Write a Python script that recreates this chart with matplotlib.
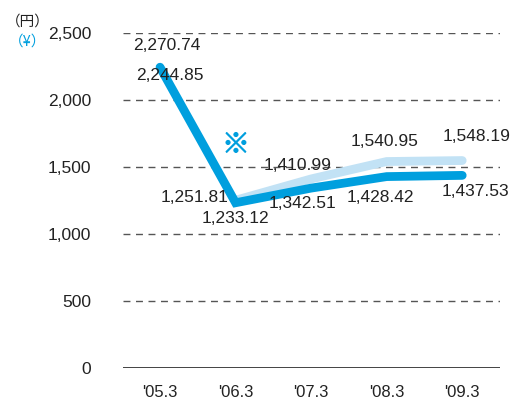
import matplotlib
matplotlib.use("Agg")
import matplotlib.pyplot as plt
import matplotlib.patheffects as pe

categories = ["'05.3", "'06.3", "'07.3", "'08.3", "'09.3"]
series_dark = [2244.85, 1233.12, 1342.51, 1428.42, 1437.53]
series_light = [2270.74, 1251.81, 1410.99, 1540.95, 1548.19]
yticks = [0, 500, 1000, 1500, 2000, 2500]
ytick_labels = ["0", "500", "1,000", "1,500", "2,000", "2,500"]

DARK = "#009fde"
LIGHT = "#c2e2f5"
FONT = "Liberation Sans"

fig = plt.figure(figsize=(5.11, 4.01), dpi=100)
ax = fig.add_axes([123/511, 33/401, 377/511, 335/401])
x = list(range(len(categories)))

ax.set_xlim(-0.49, 4.5)
ax.set_ylim(0, 2500)

for v in yticks[1:]:
    ax.axhline(v, color="#555555", lw=1.0, dashes=(5, 4), zorder=1)
ax.axhline(0, color="#222222", lw=1.2, zorder=1)

ax.plot(x[1:], series_light[1:], color=LIGHT, lw=6.3, solid_capstyle="round",
        solid_joinstyle="miter", zorder=2)
ax.plot(x, series_dark, color=DARK, lw=6.3, solid_capstyle="round",
        solid_joinstyle="miter", zorder=3)

for s in ax.spines.values():
    s.set_visible(False)
ax.set_xticks(x)
ax.set_xticklabels(categories, fontsize=12, family=FONT, color="#222222")
ax.set_yticks(yticks)
ax.set_yticklabels(ytick_labels, fontsize=12.5, family=FONT, color="#222222")
ax.tick_params(axis="both", length=0)
ax.tick_params(axis="y", pad=23)
ax.tick_params(axis="x", pad=12)

def lbl(px, py, text, ha="center"):
    fig.text(px/511, 1 - py/401, text, ha=ha, va="center", fontsize=12.5,
             family=FONT, color="#222222", zorder=5)

def fmt(v):
    return f"{v:,.2f}"

# light series labels
lbl(167, 45, fmt(series_light[0]))
lbl(229, 198, fmt(series_light[1]), ha="right")
lbl(298, 165, fmt(series_light[2]))
lbl(385, 142, fmt(series_light[3]))
lbl(477, 137, fmt(series_light[4]))
# dark series labels
lbl(170, 76, fmt(series_dark[0]))
lbl(235, 219, fmt(series_dark[1]))
lbl(302, 203, fmt(series_dark[2]))
lbl(380, 198, fmt(series_dark[3]))
lbl(475, 192, fmt(series_dark[4]))

fig.text(236/511, 1 - 145/401, "※", ha="center", va="center", fontsize=20,
         fontweight="bold", family=["Noto Sans CJK JP", "DejaVu Sans"], color=DARK,
         path_effects=[pe.withStroke(linewidth=0.7, foreground=DARK)])

fig.text(28/511, 1 - 22/401, "（円）", ha="center", va="center", fontsize=10.5,
         family=["Noto Sans CJK JP", "DejaVu Sans"], color="#222222")
fig.text(28/511, 1 - 42/401, "（¥）", ha="center", va="center", fontsize=10.5,
         family=["Noto Sans CJK JP", "DejaVu Sans"], color=DARK)

fig.savefig("out.png", dpi=100)
